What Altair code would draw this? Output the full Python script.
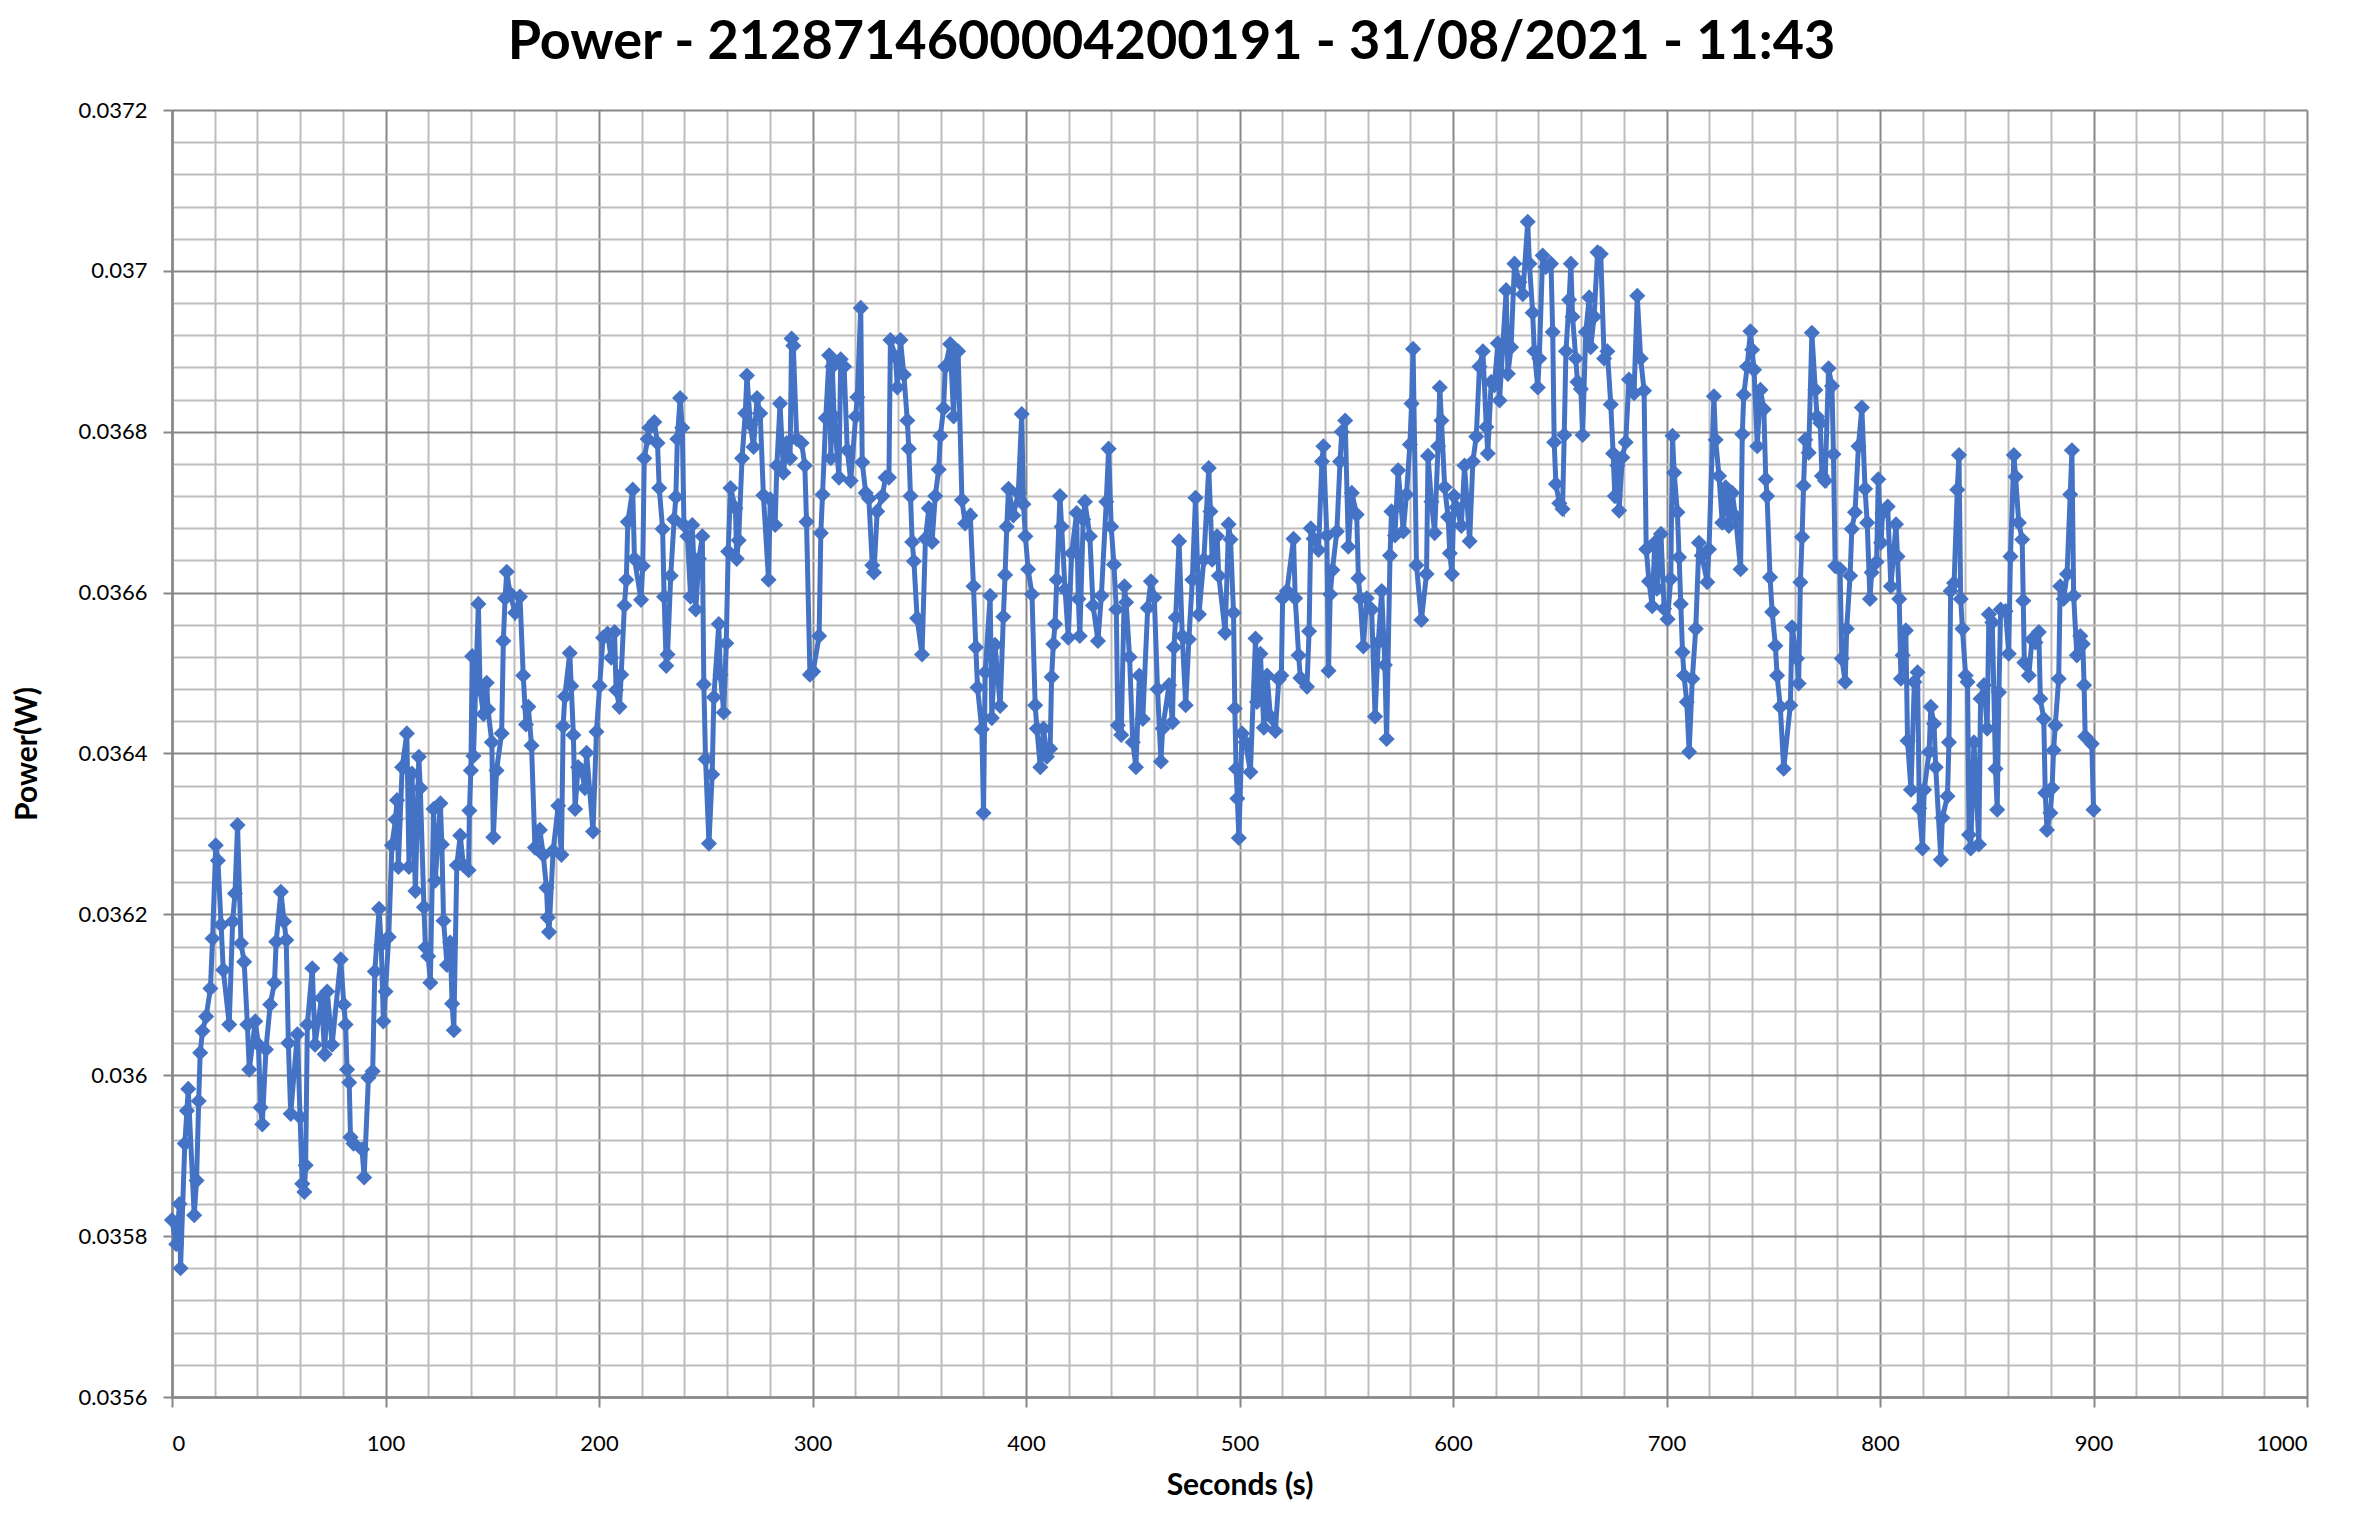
import altair as alt
import pandas as pd

TITLE = "Power - 2128714600004200191 - 31/08/2021 - 11:43"
X_TITLE = "Seconds (s)"
Y_TITLE = "Power(W)"

# (seconds, watts), in 100 s segments
seg_000 = [(0, .035820), (2, .035790), (3.5, .035840), (4, .035760), (6, .035915), (7, .035956), (7.6, .035983),
           (10.4, .035826), (11.5, .035869), (12.5, .035968), (13.2, .036028), (14.3, .036055), (16, .036073),
           (18, .036108), (19, .036170), (20.5, .036286), (21.5, .036267), (23, .036187), (24, .036131),
           (26.8, .036063), (28.4, .036191), (29.5, .036226), (30.7, .036311), (32.3, .036164), (33.8, .036141),
           (35.3, .036063), (36.2, .036007), (39, .036067), (40.5, .036038), (41.5, .035960), (42.3, .035939),
           (44, .036032), (46, .036088), (48, .036115), (48.8, .036166), (51, .036228), (52.5, .036191),
           (53.5, .036168), (54.5, .036040), (55.6, .035952), (58.7, .036051), (60, .035948), (61, .035865),
           (62, .035855), (62.6, .035888), (63.4, .036063), (65.7, .036133), (67, .036038), (70, .036096),
           (71.5, .036026), (72.7, .036104), (75, .036038), (79, .036144), (80.5, .036088), (81.3, .036063),
           (82, .036007), (83, .035991), (83.6, .035923), (85, .035915), (89, .035908), (90, .035873),
           (92, .035997), (94, .036005), (95, .036129), (97, .036207), (98, .036162), (99, .036067)]
seg_100 = [(100, .036104), (101.5, .036172), (103, .036286), (104.7, .036318), (105.4, .036342), (106, .036259),
           (107.8, .036383), (110, .036425), (111, .036259), (112.4, .036375), (114, .036229), (115.6, .036396),
           (116.3, .036357), (118, .036209), (118.7, .036159), (120, .036148), (121, .036115), (122.5, .036331),
           (123.3, .036242), (125.7, .036338), (126.4, .036287), (127.2, .036192), (128.8, .036137),
           (130.3, .036165), (131.2, .036089), (132, .036056), (133.4, .036261), (135, .036298), (136.5, .036261),
           (138.9, .036255), (139.3, .036329), (140, .036379), (140.6, .036521), (141.2, .036397),
           (143.5, .036586), (144.3, .036479), (145.9, .036449), (147.4, .036488), (148, .036455),
           (149.8, .036414), (150.5, .036296), (152, .036379), (154.4, .036425), (155.2, .036540), (156, .036593),
           (156.8, .036626), (158.3, .036599), (160.7, .036575), (163, .036595), (164.5, .036497),
           (165.8, .036436), (166.9, .036458), (168.4, .036410), (170, .036283), (172.3, .036305),
           (173.9, .036274), (175.4, .036233), (176, .036196), (176.6, .036178), (178.5, .036279),
           (180.9, .036335), (182.4, .036274), (183.2, .036434), (184, .036471), (186.3, .036525), (187, .036484),
           (188, .036423), (188.8, .036331), (190.2, .036383), (191.8, .036379), (193.4, .036357),
           (194.2, .036401), (197.2, .036303), (198.8, .036427)]
seg_200 = [(200.3, .036484), (201.9, .036544), (204, .036549), (205.7, .036519), (207.3, .036551), (208, .036479),
           (209.6, .036458), (210.4, .036498), (211.9, .036584), (212.8, .036616), (213.5, .036688),
           (215.8, .036728), (216.6, .036642), (219.7, .036591), (220.5, .036633), (221.2, .036767),
           (222.8, .036791), (223.6, .036805), (225.9, .036812), (227.4, .036786), (228.2, .036730),
           (229.8, .036679), (230.5, .036595), (231.5, .036509), (232.1, .036523), (233.6, .036621),
           (235.2, .036691), (236, .036719), (236.7, .036791), (238, .036842), (239, .036805), (239.8, .036684),
           (241.4, .036670), (242.9, .036595), (243.7, .036684), (245.3, .036579), (246.8, .036642),
           (248.4, .036670), (249.1, .036486), (249.9, .036393), (251.5, .036288), (253, .036374),
           (253.8, .036470), (256.1, .036561), (256.9, .036498), (258.4, .036451), (259.6, .036537),
           (260.5, .036651), (261.6, .036730), (263.9, .036705), (264.5, .036642), (265.4, .036665),
           (267, .036767), (268.5, .036823), (269.3, .036870), (270.9, .036809), (272.4, .036781), (274, .036842),
           (275.5, .036823), (277, .036721), (279.4, .036616), (280.2, .036716), (282.5, .036684),
           (283.3, .036758), (284.8, .036835), (286.4, .036749), (287.9, .036786), (289.5, .036767),
           (290.2, .036916), (291, .036907), (292.6, .036791), (294.9, .036786), (296.4, .036758),
           (297.2, .036688), (298.8, .036498)]
seg_300 = [(300.3, .036502), (303.1, .036546), (303.9, .036674), (304.7, .036722), (306.2, .036817),
           (307.8, .036895), (308.6, .036767), (309.3, .036881), (310.1, .036819), (312.4, .036743),
           (313.2, .036890), (314.8, .036881), (316.3, .036777), (317.9, .036739), (320.2, .036819),
           (321, .036843), (322.6, .036954), (323.3, .036762), (324.9, .036724), (326.4, .036717), (328, .036634),
           (328.8, .036625), (330.3, .036701), (332.7, .036720), (334.2, .036743), (335.8, .036743),
           (336.5, .036914), (338.9, .036893), (339.7, .036855), (341.2, .036914), (342.8, .036871),
           (344.4, .036814), (345.1, .036779), (345.9, .036720), (346.7, .036663), (347.5, .036639),
           (349, .036568), (351.3, .036523), (352.9, .036667), (354.5, .036705), (356, .036663), (357.5, .036720),
           (359.1, .036753), (359.9, .036795), (361.4, .036829), (362.2, .036881), (364.5, .036909),
           (366.1, .036819), (367.2, .036900), (368.2, .036900), (370, .036715), (371.5, .036686),
           (373.9, .036696), (375.4, .036608), (376.5, .036532), (377.3, .036482), (379.3, .036430),
           (380.1, .036326), (380.9, .036501), (383.2, .036596), (384, .036444), (385.5, .036535),
           (387.9, .036459), (389.4, .036570), (390.2, .036622), (391, .036682), (391.8, .036729),
           (394.1, .036696), (396.4, .036724), (398, .036822), (398.8, .036710), (399.7, .036670)]
seg_400 = [(401, .036629), (402.8, .036598), (404.3, .036460), (405.1, .036431), (406.7, .036383), (408.2, .036431),
           (409.8, .036396), (411.3, .036406), (412, .036495), (412.8, .036536), (413.6, .036561),
           (414.4, .036616), (415.9, .036720), (416.7, .036682), (418.3, .036604), (419.8, .036544),
           (421.4, .036649), (423.7, .036699), (424.5, .036592), (425.2, .036546), (426.8, .036691),
           (427.6, .036713), (429.9, .036670), (431.4, .036584), (433.7, .036540), (435.3, .036596),
           (437.6, .036713), (438.7, .036779), (439.9, .036682), (441.2, .036635), (442.3, .036579),
           (443, .036435), (444.6, .036423), (446.1, .036608), (446.9, .036588), (448.5, .036520),
           (450, .036414), (451.5, .036383), (453.1, .036497), (454.7, .036443), (457, .036581), (458.5, .036614),
           (460.1, .036594), (461.6, .036480), (463.2, .036390), (464, .036431), (467, .036485), (468.6, .036439),
           (469.3, .036532), (470.1, .036569), (471.7, .036664), (473.2, .036546), (474.8, .036460),
           (476.3, .036542), (477.9, .036616), (479.4, .036718), (481, .036573), (483.3, .036641),
           (485.6, .036755), (486.4, .036701), (487.2, .036641), (489.5, .036670), (490.3, .036621),
           (493.3, .036550), (494.9, .036685), (495.8, .036666), (497.2, .036575), (497.8, .036456),
           (498.4, .036381), (499, .036344), (499.7, .036295)]
seg_500 = [(501.2, .036425), (502.8, .036414), (505.1, .036377), (507.5, .036543), (508.2, .036464),
           (509.8, .036524), (511.4, .036432), (512.9, .036497), (514.5, .036446), (516.8, .036428),
           (518.4, .036492), (519.6, .036497), (520.2, .036593), (522.2, .036602), (525.3, .036667),
           (526.1, .036593), (527.7, .036522), (528.5, .036494), (531.6, .036483), (532.6, .036552),
           (533.4, .036680), (534.7, .036667), (537, .036653), (538.6, .036763), (539.3, .036782),
           (540.9, .036671), (541.7, .036503), (542.5, .036598), (543.5, .036628), (545.6, .036676),
           (547.1, .036763), (547.9, .036800), (549.5, .036814), (551, .036657), (552.6, .036724),
           (554.9, .036697), (555.7, .036618), (556.5, .036593), (558, .036533), (559.6, .036593),
           (561.9, .036579), (563.5, .036446), (565, .036538), (566.6, .036602), (568.1, .036510),
           (568.9, .036418), (570.5, .036646), (571.2, .036701), (572.8, .036671), (574.3, .036752),
           (576.7, .036676), (578.2, .036722), (579.8, .036784), (580.6, .036835), (581.3, .036903),
           (582.9, .036634), (585.2, .036566), (587.6, .036623), (588.3, .036770), (589.9, .036713),
           (591.4, .036674), (593, .036782), (593.8, .036855), (594.6, .036814), (596.1, .036731),
           (597.7, .036694), (598.5, .036649), (599.5, .036623)]
seg_600 = [(600.5, .036720), (601.6, .036706), (603.9, .036683), (605.4, .036758), (607.8, .036664),
           (609.3, .036763), (610.9, .036794), (612.4, .036881), (614, .036900), (615.6, .036806),
           (616.3, .036773), (617.9, .036862), (619.4, .036858), (621, .036910), (621.8, .036839),
           (623.3, .036905), (624.9, .036976), (625.7, .036872), (627.2, .036905), (628.8, .037009),
           (631.1, .036986), (632.7, .036971), (635, .037061), (635.8, .037009), (637.3, .036948),
           (638.1, .036900), (639.7, .036855), (640.4, .036891), (642, .037019), (643.5, .037005),
           (645.9, .037009), (646.7, .036924), (647.4, .036787), (648.2, .036735), (649.8, .036711),
           (651.3, .036704), (652.1, .036796), (652.9, .036900), (654.4, .036964), (655.2, .037009),
           (656, .036943), (657.5, .036891), (658.3, .036862), (659.9, .036853), (660.7, .036796),
           (662.2, .036924), (663.8, .036967), (664.5, .036905), (666.1, .036943), (667.7, .037023),
           (669.2, .037021), (670.8, .036891), (672.3, .036900), (673.9, .036834), (675, .036773),
           (675.8, .036720), (677, .036758), (677.8, .036702), (679.3, .036768), (680.9, .036787),
           (682.4, .036865), (684.8, .036848), (686.3, .036969), (687.9, .036891), (689.5, .036851),
           (690.5, .036654), (691.8, .036614), (693.3, .036583), (694.5, .036662), (695.5, .036605),
           (697.4, .036673), (698.9, .036580)]
seg_700 = [(700.5, .036567), (702, .036617), (702.8, .036795), (703.6, .036749), (705.1, .036700), (705.9, .036644),
           (706.7, .036586), (707.5, .036526), (708.2, .036497), (709.5, .036464), (710.6, .036402),
           (712.1, .036493), (713.7, .036555), (715.2, .036662), (716.5, .036646), (719.1, .036613),
           (719.9, .036654), (722.2, .036844), (723, .036790), (724.6, .036745), (726.1, .036687),
           (727.7, .036731), (729.2, .036683), (730.8, .036724), (732.3, .036695), (734.7, .036629),
           (735.5, .036797), (736.2, .036846), (737.8, .036881), (739.3, .036925), (740.1, .036902),
           (741, .036877), (742.5, .036782), (744, .036852), (745.6, .036828), (746.5, .036741), (747.1, .036720),
           (748.5, .036619), (749.5, .036576), (751, .036534), (751.8, .036497), (753.3, .036458),
           (754.9, .036381), (758, .036460), (758.8, .036557), (761.1, .036518), (761.9, .036487),
           (762.7, .036613), (763.5, .036669), (764.2, .036733), (765, .036790), (766.6, .036774),
           (768.1, .036923), (769.7, .036852), (770.5, .036819), (772, .036811), (772.8, .036745),
           (774.3, .036739), (775.9, .036879), (777.5, .036857), (778.2, .036772), (779, .036633),
           (781.3, .036629), (782.1, .036518), (783.7, .036489), (784.4, .036555), (786, .036621),
           (786.8, .036679), (788.3, .036700), (789.9, .036782), (791.5, .036830), (793, .036729),
           (794, .036687), (795.3, .036592), (796.1, .036625), (798.4, .036638), (799.2, .036741)]
seg_800 = [(800.5, .036662), (801.2, .036699), (803.6, .036707), (805.1, .036608), (807.5, .036685),
           (808.2, .036645), (809, .036592), (809.8, .036493), (810.6, .036522), (812.1, .036553),
           (812.9, .036416), (814.5, .036355), (816.1, .036489), (817.6, .036501), (818.4, .036332),
           (819.9, .036282), (820.7, .036355), (823, .036402), (823.8, .036458), (825.3, .036437),
           (826.1, .036383), (828.5, .036268), (829.2, .036320), (831.6, .036347), (832.3, .036414),
           (833.1, .036602), (834.7, .036612), (836.2, .036728), (837, .036771), (837.8, .036592),
           (838.6, .036555), (840.1, .036497), (841, .036489), (841.7, .036299), (842.5, .036282), (844, .036414),
           (846.3, .036287), (847.1, .036468), (848.7, .036485), (850.2, .036431), (851, .036573),
           (852.6, .036563), (854.1, .036381), (854.9, .036330), (855.7, .036476), (856.5, .036579),
           (858.8, .036577), (860.3, .036524), (861.1, .036645), (862.7, .036771), (863.5, .036744),
           (865, .036687), (866.6, .036666), (867.1, .036590), (867.6, .036513), (869.7, .036497),
           (871.2, .036542), (872.8, .036538), (874.4, .036551), (875.1, .036468), (876.7, .036443),
           (877.4, .036351), (878.2, .036305), (879.8, .036326), (880.6, .036357), (881.3, .036404),
           (882.1, .036435), (883.7, .036493), (884.4, .036608), (886, .036592), (887.6, .036623),
           (889.1, .036722), (889.9, .036777), (890.7, .036596), (892.2, .036522), (893.8, .036546),
           (895, .036536), (895.6, .036485), (896.1, .036421), (899.2, .036412), (900, .036330)]

segments = [seg_000, seg_100, seg_200, seg_300, seg_400, seg_500, seg_600, seg_700, seg_800]
rows = [pair for seg in segments for pair in seg]
df = pd.DataFrame(rows, columns=["Seconds", "Power"])
df["idx"] = range(len(df))

x_ticks = list(range(0, 1001, 20))
y_ticks = [round(0.0356 + i * 0.00004, 6) for i in range(41)]

MAJOR = "#878787"
MINOR = "#bdbdbd"
x_major = "datum.value % 100 === 0"
y_major = "abs(datum.value * 5000 - round(datum.value * 5000)) < 0.001"
FONT = "Lato"

x_axis = alt.Axis(
    values=x_ticks, title=X_TITLE, format="d", labelExpr=f"{x_major} ? datum.label : ''",
    gridColor={"condition": {"test": x_major, "value": MAJOR}, "value": MINOR}, gridWidth=2,
    tickColor={"condition": {"test": x_major, "value": MAJOR}, "value": "transparent"},
    tickSize=10, tickWidth=2, domainColor=MAJOR, domainWidth=2.5,
    labelFont=FONT, labelFontSize=22, labelColor="#000000", labelPadding=26,
    titleFont=FONT, titleFontSize=30, titleFontWeight="bold", titleColor="#000000", titlePadding=16,
)
y_axis = alt.Axis(
    values=y_ticks, title=Y_TITLE, format=".4~f", labelExpr=f"{y_major} ? datum.label : ''",
    gridColor={"condition": {"test": y_major, "value": MAJOR}, "value": MINOR}, gridWidth=2,
    tickColor={"condition": {"test": y_major, "value": MAJOR}, "value": "transparent"},
    tickSize=9, tickWidth=2, domainColor=MAJOR, domainWidth=2.5,
    labelFont=FONT, labelFontSize=22, labelColor="#000000", labelPadding=16,
    titleFont=FONT, titleFontSize=30, titleFontWeight="bold", titleColor="#000000", titlePadding=36,
)

chart = alt.Chart(df).mark_line(
    color="#4472C4", strokeWidth=5,
    point=alt.OverlayMarkDef(shape="diamond", size=260, filled=True, color="#4472C4", opacity=1),
).encode(
    x=alt.X("Seconds:Q", scale=alt.Scale(domain=[0, 1000], nice=False, zero=False), axis=x_axis),
    y=alt.Y("Power:Q", scale=alt.Scale(domain=[0.0356, 0.0372], nice=False, zero=False), axis=y_axis),
    order="idx:Q",
).properties(
    width=2135, height=1287,
    autosize=alt.AutoSizeParams(type="none"),
    padding={"left": 164, "top": 102, "right": 30, "bottom": 106},
    title=alt.TitleParams(TITLE, font=FONT, fontSize=54, fontWeight="bold", color="#000000",
                          anchor="middle", dx=-68, dy=-29, offset=0, baseline="top"),
).configure_view(stroke=None).configure(background="white")

chart.save("out.html", embed_options={"renderer": "svg", "actions": False})
